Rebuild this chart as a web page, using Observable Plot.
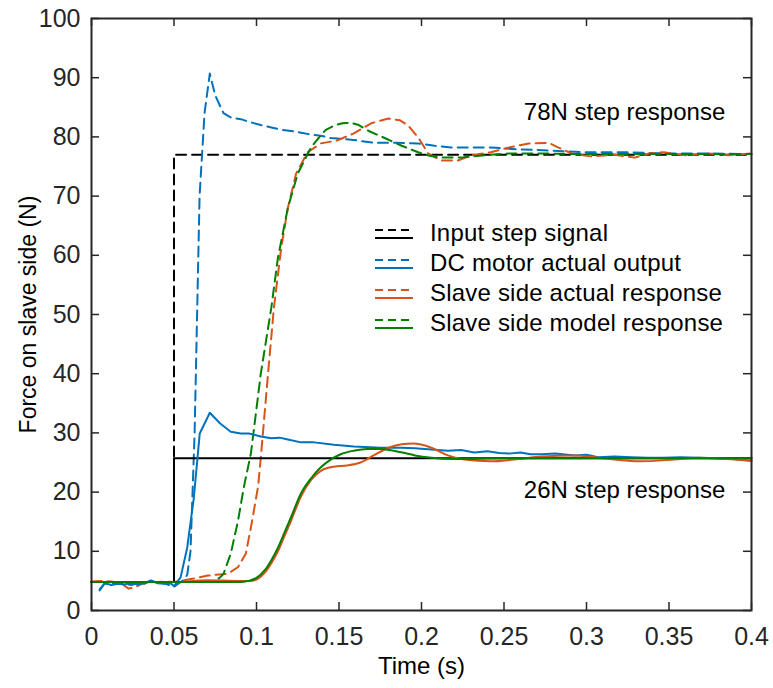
<!DOCTYPE html>
<html>
<head>
<meta charset="utf-8">
<script src="https://cdn.jsdelivr.net/npm/d3@7"></script>
<script src="https://cdn.jsdelivr.net/npm/@observablehq/plot@0.6"></script>
<style>
  html, body { margin: 0; padding: 0; background: #fff; }
  #chart { width: 773px; height: 688px; }
</style>
</head>
<body>
<div id="chart"></div>
<script>
// ---------- data ----------
const xTicks = [0, 0.05, 0.1, 0.15, 0.2, 0.25, 0.3, 0.35, 0.4];
const yTicks = [0, 10, 20, 30, 40, 50, 60, 70, 80, 90, 100];

const legendLabels = ["Input step signal", "DC motor actual output", "Slave side actual response", "Slave side model response"];
const annotationLabels = ["78N step response", "26N step response"];

// Input step signal
const tInput = [0, 0.05, 0.05, 0.4];
const fInput78 = [4.8, 4.8, 77.0, 77.0];
const fInput26 = [4.8, 4.8, 25.7, 25.7];

// DC motor actual output, 78N (dashed)
const tMotor78 = [0.005, 0.008, 0.012, 0.016, 0.02, 0.024, 0.028, 0.032, 0.036, 0.04, 0.044, 0.048, 0.05, 0.053, 0.056, 0.058, 0.06, 0.061, 0.0625, 0.064, 0.0655, 0.0685, 0.0717, 0.075, 0.08, 0.085, 0.0905, 0.096, 0.1026, 0.109, 0.115, 0.121, 0.127, 0.133, 0.139, 0.145, 0.151, 0.161, 0.171, 0.185, 0.198, 0.208, 0.218, 0.23, 0.242, 0.259, 0.277, 0.299, 0.323, 0.353, 0.375, 0.4];
const fMotor78 = [3.6, 4.6, 4.4, 4.7, 4.5, 4.3, 4.6, 4.5, 5.0, 4.7, 4.6, 4.2, 4.0, 4.6, 5.2, 6.0, 10.0, 18.0, 30.0, 50.0, 70.0, 84.0, 90.7, 87.0, 84.0, 83.2, 83.0, 82.5, 82.0, 81.6, 81.2, 81.0, 80.7, 80.4, 80.2, 79.8, 79.7, 79.4, 79.0, 79.0, 78.9, 78.5, 78.2, 78.2, 78.2, 77.9, 77.7, 77.4, 77.4, 77.2, 77.2, 77.1];

// DC motor actual output, 26N (solid)
const tMotor26 = [0.005, 0.008, 0.012, 0.016, 0.02, 0.024, 0.028, 0.032, 0.036, 0.04, 0.044, 0.048, 0.05, 0.054, 0.058, 0.062, 0.0656, 0.0717, 0.078, 0.0844, 0.0905, 0.0954, 0.1026, 0.109, 0.114, 0.119, 0.127, 0.135, 0.147, 0.159, 0.1755, 0.188, 0.196, 0.206, 0.216, 0.224, 0.232, 0.24, 0.247, 0.253, 0.26, 0.266, 0.273, 0.281, 0.293, 0.3, 0.307, 0.317, 0.327, 0.337, 0.347, 0.357, 0.368, 0.378, 0.389, 0.4];
const fMotor26 = [3.4, 4.6, 4.3, 4.5, 4.4, 4.7, 4.4, 4.6, 5.1, 4.6, 4.5, 4.6, 4.1, 5.6, 10.6, 19.0, 29.9, 33.4, 31.6, 30.2, 29.9, 29.9, 29.4, 29.1, 29.2, 28.9, 28.4, 28.4, 28.0, 27.7, 27.5, 27.5, 27.4, 27.2, 27.0, 27.1, 26.7, 26.9, 26.6, 26.5, 26.7, 26.4, 26.4, 26.5, 26.2, 26.3, 25.9, 26.0, 25.9, 25.8, 25.8, 25.9, 25.8, 25.7, 25.6, 25.3];

// Slave side actual response, 78N (dashed)
const tActual78 = [0, 0.006, 0.012, 0.018, 0.0225, 0.027, 0.031, 0.036, 0.04, 0.045, 0.05, 0.054, 0.062, 0.0705, 0.0826, 0.0887, 0.0935, 0.0966, 0.101, 0.1026, 0.107, 0.1105, 0.115, 0.119, 0.124, 0.131, 0.139, 0.149, 0.159, 0.1695, 0.18, 0.187, 0.192, 0.198, 0.204, 0.212, 0.222, 0.23, 0.242, 0.253, 0.265, 0.277, 0.283, 0.291, 0.303, 0.317, 0.329, 0.338, 0.347, 0.36, 0.374, 0.386, 0.4];
const fActual78 = [4.9, 5.0, 4.9, 4.6, 3.7, 4.0, 4.6, 4.8, 4.8, 4.9, 4.8, 5.0, 5.4, 5.9, 6.2, 7.3, 9.6, 14.0, 21.0, 25.8, 40.0, 51.0, 61.3, 68.0, 73.8, 77.4, 78.9, 79.4, 80.6, 82.3, 83.1, 82.8, 81.9, 79.9, 77.2, 76.0, 76.0, 76.9, 77.4, 78.2, 78.9, 79.0, 78.2, 77.2, 76.7, 77.0, 76.5, 77.2, 77.4, 76.9, 77.2, 76.9, 77.2];

// Slave side model response, 78N (dashed)
const tModel78 = [0, 0.05, 0.074, 0.078, 0.08, 0.0844, 0.0887, 0.0923, 0.0966, 0.1026, 0.109, 0.113, 0.119, 0.125, 0.133, 0.137, 0.142, 0.147, 0.152, 0.157, 0.162, 0.168, 0.177, 0.188, 0.198, 0.205, 0.212, 0.224, 0.238, 0.253, 0.27, 0.3, 0.4];
const fModel78 = [4.8, 4.8, 4.9, 5.6, 6.2, 9.6, 15.0, 20.8, 26.5, 40.0, 51.2, 59.6, 68.0, 73.8, 78.2, 79.6, 81.2, 81.9, 82.3, 82.4, 82.0, 81.0, 79.9, 78.5, 77.4, 76.8, 76.5, 76.5, 76.9, 77.2, 77.2, 77.1, 77.1];

// Slave side actual response, 26N (solid)
const tActual26 = [0, 0.05, 0.07, 0.09, 0.097, 0.101, 0.105, 0.109, 0.113, 0.117, 0.121, 0.127, 0.133, 0.139, 0.147, 0.155, 0.163, 0.171, 0.18, 0.188, 0.195, 0.206, 0.216, 0.226, 0.242, 0.256, 0.273, 0.293, 0.307, 0.333, 0.353, 0.368, 0.385, 0.4];
const fActual26 = [4.8, 4.8, 5.1, 5.0, 5.0, 5.4, 6.4, 8.0, 10.0, 12.6, 15.2, 19.3, 22.0, 23.6, 24.3, 24.5, 25.0, 26.2, 27.5, 28.1, 28.2, 27.5, 26.2, 25.5, 25.2, 25.5, 26.0, 26.2, 25.8, 25.2, 25.5, 25.8, 25.6, 25.3];

// Slave side model response, 26N (solid)
const tModel26 = [0, 0.05, 0.09, 0.095, 0.1, 0.105, 0.109, 0.113, 0.117, 0.121, 0.127, 0.133, 0.139, 0.145, 0.151, 0.159, 0.167, 0.175, 0.183, 0.19, 0.196, 0.206, 0.22, 0.25, 0.3, 0.4];
const fModel26 = [4.8, 4.8, 4.8, 5.0, 5.5, 6.8, 8.5, 10.6, 13.2, 15.8, 19.8, 22.3, 24.2, 25.5, 26.4, 27.0, 27.3, 27.3, 27.0, 26.6, 26.2, 25.8, 25.6, 25.7, 25.7, 25.7];

// ---------- styles ----------
const colBlack = "#000000", colBlue = "#0072BD", colOrange = "#D95319", colGreen = "#008000";
const axisColor = "#262626";
const dash = "10,6";
const fontFamily = "'Liberation Sans', Arial, Helvetica, sans-serif";

const rows = (t, f) => t.map((x, i) => ({t: x, f: f[i]}));

const W = 773, H = 688;
const mL = 91, mR = 22, mT = 18, mB = 78;
const innerW = W - mL - mR, innerH = H - mT - mB;
const tickLen = 8;

const series = [
  {t: tInput, f: fInput78, color: colBlack, dashed: true, curve: "linear"},
  {t: tMotor78, f: fMotor78, color: colBlue, dashed: true, curve: "linear"},
  {t: tActual78, f: fActual78, color: colOrange, dashed: true, curve: "linear"},
  {t: tModel78, f: fModel78, color: colGreen, dashed: true, curve: "linear"},
  {t: tInput, f: fInput26, color: colBlack, dashed: false, curve: "linear"},
  {t: tMotor26, f: fMotor26, color: colBlue, dashed: false, curve: "linear"},
  {t: tActual26, f: fActual26, color: colOrange, dashed: false, curve: "monotone-x"},
  {t: tModel26, f: fModel26, color: colGreen, dashed: false, curve: "monotone-x"}
];
const legendColors = [colBlack, colBlue, colOrange, colGreen];

function legendMark(index, scales, values, dims) {
  const g = d3.create("svg:g")
    .attr("font-family", fontFamily)
    .attr("font-size", 24)
    .attr("text-anchor", "start");
  const x0 = 375, x1 = 413, xt = 430, y0 = 233, dy = 30;
  legendLabels.forEach((lab, i) => {
    const cy = y0 + i * dy;
    g.append("line").attr("x1", x0).attr("x2", x1).attr("y1", cy - 3).attr("y2", cy - 3)
      .attr("stroke", legendColors[i]).attr("stroke-width", 2).attr("stroke-dasharray", "8,5");
    g.append("line").attr("x1", x0).attr("x2", x1).attr("y1", cy + 5).attr("y2", cy + 5)
      .attr("stroke", legendColors[i]).attr("stroke-width", 2);
    g.append("text").attr("x", xt).attr("y", cy).attr("dy", "0.35em")
      .attr("text-anchor", "start")
      .attr("fill", "#000").attr("letter-spacing", "0.2px").text(lab);
  });
  return g.node();
}

const chart = Plot.plot({
  width: W, height: H,
  marginLeft: mL, marginRight: mR, marginTop: mT, marginBottom: mB,
  style: {fontFamily, background: "#fff", color: axisColor},
  x: {domain: [0, 0.4]},
  y: {domain: [0, 100]},
  marks: [
    ...series.map(s => Plot.line(rows(s.t, s.f), {
      x: "t", y: "f", stroke: s.color, strokeWidth: 2,
      strokeDasharray: s.dashed ? dash : null, curve: s.curve
    })),
    Plot.text([annotationLabels[0]], {x: 0.262, y: 84.1, text: d => d, textAnchor: "start", fontSize: 24, fill: "#000"}),
    Plot.text([annotationLabels[1]], {x: 0.262, y: 20.3, text: d => d, textAnchor: "start", fontSize: 24, fill: "#000"}),
    legendMark,
    // inward ticks on all four sides
    Plot.tickX(xTicks, {x: d => d, stroke: axisColor, strokeWidth: 1.5, insetTop: innerH - tickLen}),
    Plot.tickX(xTicks, {x: d => d, stroke: axisColor, strokeWidth: 1.5, insetBottom: innerH - tickLen}),
    Plot.tickY(yTicks, {y: d => d, stroke: axisColor, strokeWidth: 1.5, insetRight: innerW - tickLen}),
    Plot.tickY(yTicks, {y: d => d, stroke: axisColor, strokeWidth: 1.5, insetLeft: innerW - tickLen}),
    Plot.frame({stroke: axisColor, strokeWidth: 2}),
    Plot.axisX(xTicks, {tickSize: 0, tickPadding: 17, tickFormat: d => String(d), label: null, fontSize: 25, fill: axisColor}),
    Plot.axisY(yTicks, {tickSize: 0, tickPadding: 11, tickFormat: d => String(d), label: null, fontSize: 25, fill: axisColor}),
    Plot.text(["Time (s)"], {frameAnchor: "bottom", lineAnchor: "middle", textAnchor: "middle", dy: 56, text: d => d, fontSize: 24, fill: "#000"}),
    Plot.text(["Force on slave side (N)"], {frameAnchor: "left", textAnchor: "middle", lineAnchor: "middle", dx: -63, rotate: -90, text: d => d, fontSize: 23, fill: "#000"})
  ]
});

document.getElementById("chart").appendChild(chart);
</script>
</body>
</html>
